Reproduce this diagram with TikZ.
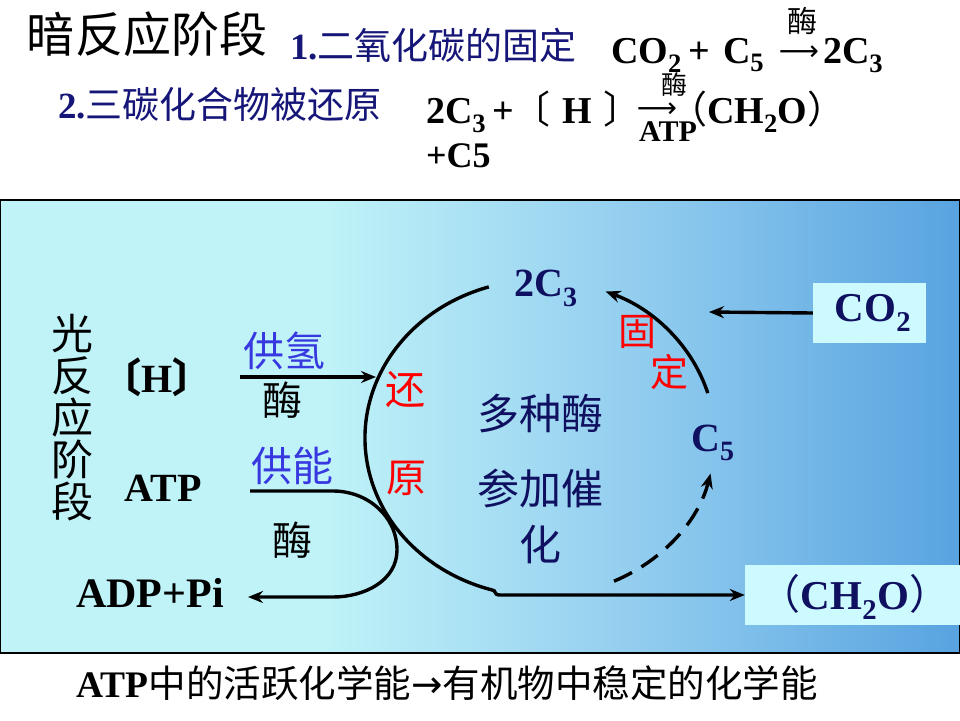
\documentclass[tikz,border=0pt]{standalone}
\usepackage{fontspec}
\usepackage{graphicx}
\setmainfont{Liberation Serif}
\newfontfamily\cjk{Noto Sans CJK SC}
\newfontfamily\arrowf{DejaVu Sans}
\usetikzlibrary{arrows.meta}
\definecolor{pcA}{RGB}{191,243,248}
\definecolor{pcB}{RGB}{150,208,240}
\definecolor{pcC}{RGB}{88,163,224}
\definecolor{dnavy}{RGB}{22,22,120}
\definecolor{tnavy}{RGB}{16,16,96}
\definecolor{lblue}{RGB}{56,56,225}
\definecolor{boxfill}{RGB}{204,250,255}
\pgfdeclarehorizontalshading{panelshade}{100bp}{color(0bp)=(pcA); color(25bp)=(pcA); color(42bp)=(pcA); color(57bp)=(pcB); color(75bp)=(pcC); color(100bp)=(pcC)}
\newcommand\fs[1]{\fontsize{#1}{#1}\selectfont}
\tikzset{
  txt/.style={inner sep=0pt, outer sep=0pt},
  zh/.style={txt, font=\cjk\fs{#1}},
  lat/.style={txt, font=\bfseries\fs{#1}},
  arw/.style={txt, font=\arrowf\fs{#1}},
  conn/.style={line width=3.4pt, draw=black},
  arr/.style={conn, -{Stealth[length=15pt,width=12pt]}},
  lbox/.style={fill=boxfill, draw=none, inner sep=0pt},
}
\begin{document}
\begin{tikzpicture}[x=1pt,y=-1pt]
\useasboundingbox (0,0) rectangle (960,720);
\fill[white] (0,0) rectangle (960,720);
% header
\node[zh=48, anchor=base west] (title) at (27,52) {暗反应阶段};
\node[txt, anchor=base west, text=dnavy] (h1) at (290,59) {\fs{37}\textbf{1.}\cjk 二氧化碳的固定};
\node[lat=38, anchor=base west] (e1a) at (611,63) {CO\textsubscript{2}\,+};
\node[lat=38, anchor=base west] (e1b) at (723,63) {C\textsubscript{5}};
\node[arw=28] (e1ar) at (799,53) {⟶};
\node[zh=30] (e1enz) at (802,21) {酶};
\node[lat=38, anchor=base west] (e1c) at (823,63) {2C\textsubscript{3}};
\node[txt, anchor=base west, text=dnavy] (h2) at (58,118) {\fs{37}\textbf{2.}\cjk 三碳化合物被还原};
\node[lat=38, anchor=base west] (e2a) at (426,123) {2C\textsubscript{3}\,+};
\node[txt, anchor=base west] (e2b) at (512,123) {\fs{38}{\cjk 〔}\hspace{12pt}\textbf{H}\hspace{12pt}{\cjk 〕}};
\node[arw=28] (e2ar) at (657,110) {⟶};
\node[zh=26] (e2enz) at (674,85) {酶};
\node[lat=30] (e2atp) at (668,132) {ATP};
\node[txt, anchor=base west] (e2c) at (691,123) {\fs{38}\hspace{-22pt}{\cjk （}\textbf{CH\textsubscript{2}O}{\cjk ）}\hspace{-18pt}};
\node[lat=36, anchor=base west] (e2d) at (426,167) {+C5};
% panel
\shade[shading=panelshade] (0,200) rectangle (960,653);
\draw[line width=1.2pt] (0.6,200) rectangle (959.4,653);
% left labels
\node[txt, font=\cjk\fs{42}, align=center] (light) at (72,418) {\fontsize{42}{43.5}\selectfont 光\\反\\应\\阶\\段};
\node[txt, font=\bfseries\fs{40}] (hyd) at (157,377) {{\cjk 〔}H{\cjk 〕}};
\node[lat=40] (atp) at (163,488) {ATP};
\node[lat=42] (adp) at (150,593) {ADP+Pi};
\node[zh=41, text=lblue] (gq) at (284,351) {供氢};
\node[zh=40] (enzA) at (282,400) {酶};
\node[zh=41, text=lblue] (gn) at (292,466) {供能};
\node[zh=40] (enzB) at (292,540) {酶};
\node[zh=40, text=red] (huan) at (405,390) {还};
\node[zh=40, text=red] (yuan) at (406,478) {原};
\node[zh=38, text=red] (gu) at (637,332) {固};
\node[zh=38, text=red] (ding) at (669,372) {定};
\node[lat=40, text=tnavy] (c3) at (546,288) {2C\textsubscript{3}};
\node[lat=40, text=tnavy] (c5) at (713,443) {C\textsubscript{5}};
\node[zh=42, text=tnavy] (m1) at (540,414) {多种酶};
\node[zh=42, text=tnavy] (m2) at (540,488) {参加催};
\node[zh=42, text=tnavy] (m3) at (540,545) {化};
% boxes
\node[lbox, minimum width=113pt, minimum height=60pt] (cobox) at (869.5,313) {};
\node[lat=41, text=tnavy] (co2) at (873,313) {CO\textsubscript{2}};
\node[lbox, minimum width=215pt, minimum height=60pt] (chbox) at (852.5,595) {};
\node[txt, text=tnavy] (ch2o) at (855,597) {\fs{41}{\cjk （}\textbf{CH\textsubscript{2}O}{\cjk ）}};
% connectors
\coordinate (hs) at (240,377);
\coordinate (he) at (376,377);
\draw[arr] (hs) -- (he);
\coordinate (as) at (250,491);
\coordinate (a1) at (333,491);
\coordinate (a2) at (397,550);
\coordinate (a3) at (333,597);
\coordinate (ae) at (248,597);
\draw[arr] (as) -- (a1) to[out=0,in=90] (a2) to[out=-90,in=0] (a3) -- (ae);
\coordinate (cc) at (540,438);
\coordinate (bj) at (500,595);
\draw[arr] (cc) ++(253:175 and 158) arc[start angle=253, end angle=106, x radius=175, y radius=158]
   .. controls +(5,0) and (493,595) .. (bj) -- (chbox.west);
\draw[arr] (cc) ++(-16.5:175 and 158) arc[start angle=-16.5, end angle=-68, x radius=175, y radius=158];
\draw[arr, dash pattern=on 20pt off 11pt] (cc) ++(65:175 and 158) arc[start angle=65, end angle=13, x radius=175, y radius=158];
\coordinate (coend) at (709,312);
\draw[arr] (cobox.west) -- (coend);
% bottom text
\node[txt, anchor=base] (bottom) at (447,697) {\fs{37.5}\textbf{ATP}{\cjk 中的活跃化学能}{\arrowf →}{\cjk 有机物中稳定的化学能}};
\end{tikzpicture}
\end{document}
